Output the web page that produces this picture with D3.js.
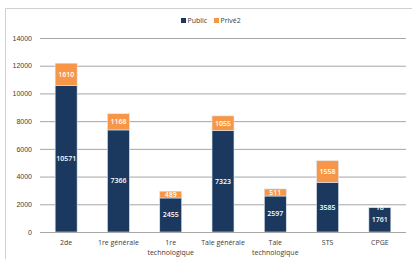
<!DOCTYPE html>
<html>
<head>
<meta charset="utf-8">
<script src="https://cdn.jsdelivr.net/npm/d3@7"></script>
<style>
  body { margin: 0; background: #fff; }
  svg { display: block; font-family: "Open Sans", "Noto Sans", sans-serif; }
  .tick text { font-size: 7px; fill: #404040; }
  .bar-value { font-size: 7px; font-weight: 600; fill: #fff; }
</style>
</head>
<body>
<div id="app"></div>
<script>
// categories and series
const categories = ["2de", "1re générale", "1re technologique", "Tale générale", "Tale technologique", "STS", "CPGE"];
const categoryLines = [["2de"], ["1re générale"], ["1re", "technologique"], ["Tale générale"], ["Tale", "technologique"], ["STS"], ["CPGE"]];
const publicValues = [10571, 7366, 2455, 7323, 2597, 3585, 1761];
const priveValues = [1610, 1168, 489, 1055, 511, 1558, 18];
const seriesNames = ["Public", "Privé2"];
const yTicks = [0, 2000, 4000, 6000, 8000, 10000, 12000, 14000];

const colors = { Public: "#1b395e", "Privé2": "#f79646" };

const width = 412, height = 259;
const margin = { left: 40, right: 6, top: 38, bottom: 27 };

const svg = d3.select("#app").append("svg")
  .attr("width", width)
  .attr("height", height);

// chart frame (top and left edges visible)
svg.append("path")
  .attr("d", `M5.5,${height} V8.5 H${width}`)
  .attr("fill", "none")
  .attr("stroke", "#d0d0d0")
  .attr("stroke-width", 1);

const x = d3.scaleBand()
  .domain(categories)
  .range([margin.left, width - margin.right])
  .paddingInner(0.58)
  .paddingOuter(0.29);

const y = d3.scaleLinear()
  .domain([0, 14000])
  .range([height - margin.bottom, margin.top]);

// gridlines + y labels
const yAxis = svg.append("g")
  .attr("transform", `translate(${margin.left},0)`)
  .call(d3.axisLeft(y).tickValues(yTicks).tickSize(-(width - margin.left - margin.right)).tickPadding(8).tickFormat(d3.format("d")));
yAxis.select(".domain").remove();
yAxis.selectAll(".tick line").attr("stroke", "#a6a6a6").attr("stroke-width", 1);

// stacked data
const data = categories.map((c, i) => ({ category: c, Public: publicValues[i], "Privé2": priveValues[i] }));
const stacked = d3.stack().keys(seriesNames)(data);

const layers = svg.append("g").selectAll("g")
  .data(stacked)
  .join("g")
  .attr("fill", d => colors[d.key]);

layers.selectAll("rect")
  .data(d => d)
  .join("rect")
  .attr("x", d => x(d.data.category))
  .attr("y", d => y(d[1]))
  .attr("width", x.bandwidth())
  .attr("height", d => y(d[0]) - y(d[1]))
  .attr("stroke", "#dfe6f0")
  .attr("stroke-width", 0.6);

// value labels
layers.selectAll("text")
  .data(d => d.map(v => ({ v, key: d.key })))
  .join("text")
  .attr("class", "bar-value")
  .attr("x", d => x(d.v.data.category) + x.bandwidth() / 2)
  .attr("y", d => (y(d.v[0]) + y(d.v[1])) / 2)
  .attr("text-anchor", "middle")
  .attr("dy", "0.35em")
  .text(d => d.v.data[d.key]);

// x axis baseline
svg.append("line")
  .attr("x1", margin.left).attr("x2", width - margin.right)
  .attr("y1", y(0) + 0.5).attr("y2", y(0) + 0.5)
  .attr("stroke", "#a6a6a6");

// category labels (wrapped)
const xLabels = svg.append("g").selectAll("text")
  .data(categories)
  .join("text")
  .attr("x", d => x(d) + x.bandwidth() / 2)
  .attr("y", y(0) + 13)
  .attr("text-anchor", "middle")
  .attr("font-size", 7)
  .attr("fill", "#404040");
xLabels.selectAll("tspan")
  .data((d, i) => categoryLines[i])
  .join("tspan")
  .attr("x", function () { return this.parentNode.getAttribute("x"); })
  .attr("dy", (d, i) => i === 0 ? 0 : 10)
  .text(d => d);

// legend
const legend = svg.append("g").attr("transform", "translate(181,21)");
const legendItems = legend.selectAll("g")
  .data(seriesNames)
  .join("g")
  .attr("transform", (d, i) => `translate(${i * 33},0)`);
legendItems.append("rect")
  .attr("x", 0).attr("y", -3)
  .attr("width", 5).attr("height", 5)
  .attr("fill", d => colors[d]);
legendItems.append("text")
  .attr("x", 6.5).attr("y", 0)
  .attr("dy", "0.35em")
  .attr("font-size", 7)
  .attr("fill", "#404040")
  .text(d => d);
</script>
</body>
</html>
